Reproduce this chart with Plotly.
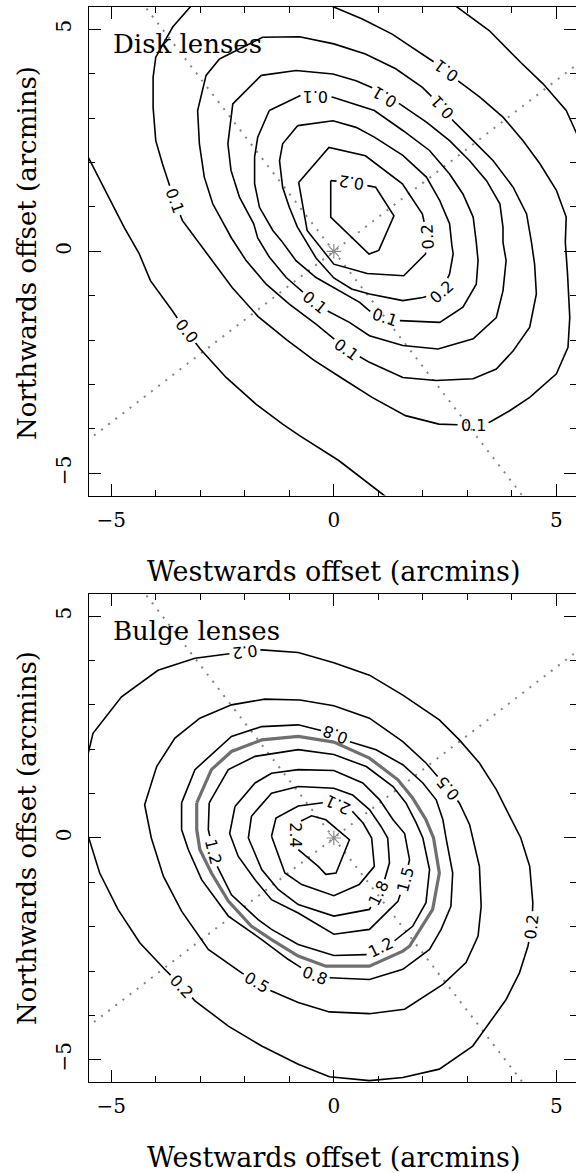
import math
import plotly.graph_objects as go

# ---------------- data (arcmin offsets) ----------------
# Disk lenses panel: contour paths
DISK_A_LOWER = [(-5.52, 2.12), (-5.05, 1.22), (-4.71, 0.54), (-4.37, -0.06), (-4.12, -0.66),
                (-3.62, -1.35), (-3.32, -1.79), (-3.0, -2.2), (-2.42, -2.84), (-1.75, -3.44),
                (-1.15, -3.89), (-0.77, -4.15), (0.11, -4.71), (0.71, -5.17), (1.16, -5.52)]
DISK_A_UPPER = [(2.74, 5.52), (3.49, 4.97), (4.2, 4.25), (4.7, 3.77), (5.22, 3.17), (5.5, 2.55)]
DISK_B = [(-0.05, 5.52), (0.64, 5.23), (1.31, 4.89), (1.99, 4.44), (2.53, 4.07), (2.79, 3.84),
          (3.28, 3.47), (3.8, 3.02), (4.25, 2.49), (4.63, 1.97), (5.0, 1.37), (5.22, 0.77),
          (5.2, 0.2), (5.25, -0.51), (5.3, -1.49), (5.26, -2.16), (5.0, -2.76), (4.4, -3.29),
          (3.95, -3.59), (3.5, -3.85), (3.13, -3.92), (2.36, -3.89), (1.61, -3.7), (0.86, -3.29),
          (0.2, -2.87), (-0.45, -2.45), (-1.05, -2.0), (-1.7, -1.47), (-2.28, -0.82),
          (-2.8, -0.13), (-3.05, 0.2), (-3.4, 0.69), (-3.58, 1.14), (-3.85, 1.97), (-4.0, 2.49),
          (-4.06, 3.24), (-4.06, 3.92), (-4.0, 4.37), (-3.62, 5.05), (-3.21, 5.52)]
DISK_C6 = [(-2.57, 4.33), (-1.6, 4.82), (-0.77, 4.83), (0.0, 4.67), (0.71, 4.44), (1.39, 4.11),
           (1.99, 3.69), (2.44, 3.24), (2.68, 2.94), (3.05, 2.57), (3.58, 2.04), (4.03, 1.44),
           (4.33, 0.84), (4.44, 0.2), (4.51, -0.29), (4.55, -0.96), (4.4, -1.71), (4.03, -2.24),
           (3.65, -2.65), (3.13, -2.87), (2.3, -2.91), (1.55, -2.84), (0.8, -2.5), (0.28, -2.2),
           (-0.4, -1.64), (-1.0, -1.19), (-1.52, -0.74), (-1.97, -0.21), (-2.3, 0.3),
           (-2.72, 1.07), (-2.91, 1.67), (-3.02, 2.42), (-3.06, 3.17), (-2.87, 3.96), (-2.57, 4.33)]
DISK_C5 = [(-1.63, 3.96), (-0.85, 4.07), (-0.02, 3.99), (0.5, 3.84), (0.91, 3.66), (1.14, 3.47),
           (1.48, 3.32), (2.08, 2.91), (2.6, 2.49), (3.05, 2.04), (3.43, 1.59), (3.73, 1.07),
           (3.8, 0.54), (3.8, 0.2), (3.87, -0.21), (3.8, -0.89), (3.65, -1.49), (3.13, -1.97),
           (2.34, -2.2), (1.55, -2.12), (0.8, -1.9), (0.35, -1.6), (-0.1, -1.37), (-0.43, -1.15),
           (-1.07, -0.59), (-1.45, -0.13), (-1.71, 0.3), (-1.8, 0.62), (-2.12, 1.22),
           (-2.31, 1.82), (-2.38, 2.42), (-2.27, 3.32), (-1.63, 3.96)]
DISK_C4 = [(-1.45, 3.17), (-0.77, 3.51), (-0.4, 3.49), (-0.02, 3.47), (0.91, 3.17), (1.55, 2.72),
           (2.15, 2.27), (2.6, 1.74), (2.9, 1.29), (3.13, 0.77), (3.2, 0.2), (3.24, -0.21),
           (3.2, -0.74), (2.9, -1.26), (2.38, -1.6), (1.48, -1.56), (1.14, -1.49), (0.8, -1.34),
           (0.58, -1.15), (0.13, -0.89), (-0.4, -0.59), (-0.85, -0.21), (-1.18, 0.24),
           (-1.37, 0.47), (-1.67, 0.99), (-1.78, 1.52), (-1.78, 2.12), (-1.71, 2.57), (-1.45, 3.17)]
DISK_C3 = [(-0.81, 2.83), (-0.02, 2.94), (0.5, 2.79), (0.91, 2.57), (1.55, 2.16), (2.08, 1.67),
           (2.38, 1.14), (2.6, 0.62), (2.65, 0.15), (2.68, -0.06), (2.6, -0.51), (2.41, -0.92),
           (2.0, -1.04), (1.55, -1.11), (0.8, -0.96), (0.4, -0.85), (0.0, -0.6), (-0.4, -0.15),
           (-0.62, 0.2), (-0.82, 0.55), (-1.0, 0.99), (-1.15, 1.44), (-1.22, 2.04), (-1.15, 2.42),
           (-0.81, 2.83)]
DISK_C2 = [(-0.79, 1.55), (-0.11, 2.34), (0.71, 2.15), (1.54, 1.52), (1.99, 0.84), (2.1, 0.32),
           (2.06, -0.06), (1.57, -0.55), (0.75, -0.5), (0.0, -0.29), (-0.6, 0.47), (-0.79, 1.55)]
DISK_C1 = [(-0.07, 1.59), (0.41, 1.55), (0.94, 1.44), (1.35, 0.8), (1.01, 0.02), (0.79, -0.06),
           (-0.07, 0.77), (-0.07, 1.59)]

# label text, x, y, angle along the contour
DISK_LABELS = [("0.0", -3.32, -1.79, 52), ("0.1", -3.58, 1.14, 70), ("0.1", 2.53, 4.07, -143),
               ("0.1", 3.13, -3.92, 0), ("0.1", 2.44, 3.24, -133), ("0.1", 0.28, -2.2, 36),
               ("0.1", 1.14, 3.47, -149), ("0.1", -0.43, -1.15, 39), ("0.1", -0.4, 3.49, 180),
               ("0.1", 1.14, -1.49, 18), ("0.2", 2.41, -0.92, -42), ("0.2", 2.1, 0.32, -94),
               ("0.2", 0.41, 1.55, -172)]

# Bulge lenses panel: contour paths
BULGE_02 = [(-5.52, 1.9), (-5.41, 2.36), (-4.77, 3.18), (-3.95, 3.78), (-3.12, 4.05), (-2.0, 4.2),
            (-1.62, 4.24), (-0.8, 4.18), (0.0, 3.95), (0.8, 3.67), (1.55, 3.22), (2.37, 2.66),
            (2.82, 2.21), (3.27, 1.69), (3.65, 1.09), (3.95, 0.49), (4.2, 0.0), (4.4, -0.64),
            (4.47, -1.46), (4.45, -2.0), (4.36, -2.44), (4.17, -3.04), (3.87, -3.64), (3.5, -4.16),
            (3.12, -4.69), (2.37, -5.21), (1.55, -5.4), (0.8, -5.47), (-0.1, -5.38), (-0.8, -5.1),
            (-1.62, -4.69), (-2.37, -4.24), (-3.12, -3.67), (-3.42, -3.34), (-3.8, -2.96),
            (-4.36, -2.36), (-4.85, -1.61), (-5.26, -0.79), (-5.52, 0.05)]
BULGE_05 = [(-4.1, 0.0), (-4.25, 0.75), (-3.98, 1.61), (-3.57, 2.25), (-3.01, 2.7), (-2.3, 3.0),
            (-1.55, 3.13), (-0.76, 3.11), (0.0, 2.98), (0.8, 2.7), (1.55, 2.17), (2.07, 1.69),
            (2.56, 1.12), (2.82, 0.79), (3.05, 0.3), (3.15, -0.1), (3.27, -0.64), (3.31, -1.54),
            (3.24, -2.21), (2.97, -2.81), (2.45, -3.3), (1.59, -3.86), (0.8, -3.96), (-0.1, -3.92),
            (-0.8, -3.71), (-1.4, -3.45), (-1.73, -3.26), (-2.07, -3.04), (-2.82, -2.51),
            (-3.42, -1.65), (-3.83, -0.86), (-4.1, 0.0)]
BULGE_08 = [(-3.42, 0.79), (-3.12, 1.54), (-2.3, 2.29), (-1.62, 2.51), (-0.8, 2.55), (-0.35, 2.44),
            (0.05, 2.33), (0.35, 2.17), (0.95, 1.99), (1.55, 1.65), (2.0, 1.24), (2.3, 0.86),
            (2.45, 0.41), (2.52, 0.0), (2.67, -0.79), (2.63, -1.54), (2.41, -2.06), (2.15, -2.51),
            (1.55, -2.96), (0.8, -3.19), (-0.1, -3.15), (-0.44, -3.11), (-1.02, -2.74),
            (-1.62, -2.29), (-2.37, -1.76), (-2.97, -0.94), (-3.27, -0.26), (-3.42, 0.19),
            (-3.42, 0.79)]
BULGE_GREY = [(-3.08, 0.79), (-2.75, 1.54), (-2.3, 1.95), (-1.62, 2.21), (-0.8, 2.29), (0.0, 2.16),
              (0.8, 1.8), (1.44, 1.31), (1.77, 0.9), (2.07, 0.41), (2.24, 0.0), (2.37, -0.79),
              (2.22, -1.61), (1.7, -2.44), (1.55, -2.55), (0.8, -2.89), (-0.18, -2.89),
              (-0.8, -2.66), (-1.4, -2.29), (-1.85, -1.99), (-2.37, -1.42), (-2.75, -0.79),
              (-3.01, -0.26), (-3.08, 0.19), (-3.08, 0.79)]
BULGE_12 = [(-2.8, 0.79), (-2.37, 1.54), (-1.77, 1.84), (-0.8, 1.99), (0.0, 1.88), (0.73, 1.61),
            (1.33, 1.16), (1.62, 0.79), (1.85, 0.34), (2.0, 0.0), (2.15, -0.71), (2.07, -1.46),
            (1.77, -1.99), (1.36, -2.32), (1.05, -2.47), (0.72, -2.63), (0.0, -2.65), (-0.8, -2.4),
            (-1.4, -2.06), (-1.7, -1.84), (-2.3, -1.28), (-2.6, -0.71), (-2.71, -0.3),
            (-2.82, 0.19), (-2.8, 0.79)]
BULGE_15 = [(-2.22, 0.71), (-1.77, 1.24), (-1.4, 1.46), (-0.8, 1.54), (0.0, 1.52), (0.65, 1.24),
            (1.03, 0.86), (1.33, 0.41), (1.59, 0.1), (1.7, -0.49), (1.6, -0.95), (1.44, -1.43),
            (0.8, -2.06), (0.0, -2.17), (-0.8, -1.69), (-1.4, -1.39), (-1.77, -0.94),
            (-2.15, -0.41), (-2.34, 0.1), (-2.22, 0.71)]
BULGE_18 = [(-1.85, 0.49), (-1.4, 1.01), (-0.8, 1.16), (0.0, 1.12), (0.42, 0.97), (0.8, 0.64),
            (1.06, 0.26), (1.21, 0.0), (1.25, -0.56), (1.14, -0.94), (1.0, -1.25), (0.8, -1.61),
            (0.0, -1.76), (-0.8, -1.5), (-1.25, -1.16), (-1.62, -0.71), (-1.92, 0.0), (-1.85, 0.49)]
BULGE_21 = [(-1.4, 0.04), (-1.3, 0.45), (-0.8, 0.72), (-0.3, 0.8), (0.1, 0.75), (0.4, 0.62),
            (0.66, 0.33), (0.85, 0.0), (0.91, -0.64), (0.57, -1.05), (0.0, -1.3), (-0.72, -1.05),
            (-1.1, -0.79), (-1.4, 0.04)]
BULGE_24 = [(-0.87, 0.08), (-0.8, 0.35), (-0.5, 0.5), (-0.18, 0.41), (0.09, 0.19), (0.35, -0.04),
            (0.05, -0.79), (-0.18, -0.82), (-0.35, -0.64), (-0.8, -0.26), (-0.87, 0.08)]

BULGE_LABELS = [("0.2", -2.0, 4.2, 173), ("0.2", 4.45, -2.0, -84), ("0.2", -3.42, -3.34, 46),
                ("0.5", 2.56, 1.12, -130), ("0.5", -1.73, -3.26, 31), ("0.8", 0.05, 2.33, -159),
                ("0.8", -0.44, -3.11, 21), ("1.2", -2.71, -0.3, 76), ("1.2", 1.05, -2.47, -26),
                ("1.5", 1.6, -0.95, -75), ("1.8", 1.0, -1.25, -63), ("2.1", 0.1, 0.75, -155),
                ("2.4", -0.87, 0.08, 90)]

# reference axes (dotted) : position angles and half lengths
AXIS_ANGLES_DEG = [-52.4, 37.6]
AXIS_HALF_LEN = [7.1, 6.8]
CENTRE = (0.0, 0.0)

PANEL_TITLES = ["Disk lenses", "Bulge lenses"]
X_TITLE = "Westwards offset (arcmins)"
Y_TITLE = "Northwards offset (arcmins)"
X_RANGE = [-5.5, 5.44]
Y_RANGE = [-5.5, 5.5]

# ---------------- helpers ----------------
LABEL_HALF_GAP = 0.35


def cut_for_labels(pts, labels, h=LABEL_HALF_GAP):
    """Return x, y lists of the polyline with gaps where labels sit."""
    cum = [0.0]
    for i in range(1, len(pts)):
        cum.append(cum[-1] + math.dist(pts[i - 1], pts[i]))
    total = cum[-1]
    gaps = []
    for (_, lx, ly, _) in labels:
        for i, p in enumerate(pts):
            if abs(p[0] - lx) < 1e-9 and abs(p[1] - ly) < 1e-9:
                gaps.append((cum[i] - h, cum[i] + h))
    if not gaps:
        return [p[0] for p in pts], [p[1] for p in pts]

    def inside(s):
        return any(a < s < b for a, b in gaps)

    def at(s):
        for i in range(len(pts) - 1):
            if cum[i] <= s <= cum[i + 1]:
                d = cum[i + 1] - cum[i]
                t = 0 if d == 0 else (s - cum[i]) / d
                return (pts[i][0] + t * (pts[i + 1][0] - pts[i][0]),
                        pts[i][1] + t * (pts[i + 1][1] - pts[i][1]))
        return pts[-1]

    events = sorted(set(cum) | {v for g in gaps for v in g if 0 <= v <= total})
    xs, ys = [], []
    prev = None
    for s in events:
        if inside(s):
            if xs and xs[-1] is not None:
                xs.append(None); ys.append(None)
            prev = None
            continue
        if prev is not None and inside((prev + s) / 2):
            if xs and xs[-1] is not None:
                xs.append(None); ys.append(None)
        x, y = at(s)
        xs.append(x); ys.append(y)
        prev = s
    return xs, ys


fig = go.Figure()

SERIF = "DejaVu Serif"
SANS = "DejaVu Sans"


def add_panel(idx, paths, grey_paths, labels):
    xa = "x" if idx == 0 else "x2"
    ya = "y" if idx == 0 else "y2"
    # dotted reference axes
    for ang, hl in zip(AXIS_ANGLES_DEG, AXIS_HALF_LEN):
        c, s = math.cos(math.radians(ang)), math.sin(math.radians(ang))
        fig.add_trace(go.Scatter(x=[CENTRE[0] - hl * c, CENTRE[0] + hl * c],
                                 y=[CENTRE[1] - hl * s, CENTRE[1] + hl * s],
                                 mode="lines", xaxis=xa, yaxis=ya, hoverinfo="skip",
                                 line=dict(color="#858585", width=2, dash="2px,7px"),
                                 showlegend=False))
    for p in paths:
        xs, ys = cut_for_labels(p, labels)
        fig.add_trace(go.Scatter(x=xs, y=ys, mode="lines", xaxis=xa, yaxis=ya,
                                 line=dict(color="black", width=1.6), hoverinfo="skip",
                                 showlegend=False, connectgaps=False))
    for p in grey_paths:
        xs, ys = cut_for_labels(p, labels)
        fig.add_trace(go.Scatter(x=xs, y=ys, mode="lines", xaxis=xa, yaxis=ya,
                                 line=dict(color="#6f6f6f", width=3.2), hoverinfo="skip",
                                 showlegend=False))
    fig.add_trace(go.Scatter(x=[CENTRE[0]], y=[CENTRE[1]], mode="markers", xaxis=xa, yaxis=ya,
                             marker=dict(symbol="asterisk-open", size=12, color="#8a8a8a",
                                         line=dict(color="#8a8a8a", width=1.2)),
                             hoverinfo="skip", showlegend=False))
    for (txt, lx, ly, ang) in labels:
        fig.add_annotation(x=lx, y=ly, xref=xa, yref=ya, text=txt, showarrow=False,
                           textangle=ang, font=dict(family=SANS, size=16, color="black"),
                           xanchor="center", yanchor="middle")


add_panel(0, [DISK_A_LOWER, DISK_A_UPPER, DISK_B, DISK_C6, DISK_C5, DISK_C4, DISK_C3,
              DISK_C2, DISK_C1], [], DISK_LABELS)
add_panel(1, [BULGE_02, BULGE_05, BULGE_08, BULGE_12, BULGE_15, BULGE_18, BULGE_21, BULGE_24],
          [BULGE_GREY], BULGE_LABELS)

W, H = 576, 1173
M_L, M_R, M_T, M_B = 89, 0, 7, 91
TOP_DOMAIN = [0.5455, 1.0]
BOT_DOMAIN = [0.0, 0.454]

axis_common = dict(showgrid=False, zeroline=False, showline=True, linecolor="black",
                   linewidth=1, mirror="ticks", ticks="inside", ticklen=12, tickwidth=1,
                   tickcolor="black", tick0=0, dtick=5,
                   tickfont=dict(family=SERIF, size=20, color="black"),
                   minor=dict(ticks="inside", ticklen=6, tickwidth=1, tickcolor="black",
                              tick0=0, dtick=1))

fig.update_layout(
    width=W, height=H, margin=dict(l=M_L, r=M_R, t=M_T, b=M_B),
    paper_bgcolor="white", plot_bgcolor="white", showlegend=False,
    xaxis=dict(domain=[0, 1], anchor="y", range=X_RANGE, ticklabelstandoff=6, **axis_common),
    yaxis=dict(domain=TOP_DOMAIN, anchor="x", range=Y_RANGE, tickangle=-90,
               ticklabelstandoff=9, **axis_common),
    xaxis2=dict(domain=[0, 1], anchor="y2", range=X_RANGE, ticklabelstandoff=6, **axis_common),
    yaxis2=dict(domain=BOT_DOMAIN, anchor="x2", range=Y_RANGE, tickangle=-90,
                ticklabelstandoff=9, **axis_common),
)

plot_h = H - M_T - M_B
plot_w = W - M_L - M_R


def px_to_paper(px, py):
    return (px - M_L) / plot_w, (H - M_B - py) / plot_h


for i, (title, ycen, tcy) in enumerate([(PANEL_TITLES[0], 253, 44), (PANEL_TITLES[1], 838, 631)]):
    xt, yt = px_to_paper(333.5, 571 if i == 0 else 1157)
    fig.add_annotation(x=xt, y=yt, xref="paper", yref="paper", text=X_TITLE, showarrow=False,
                       font=dict(family=SERIF, size=27, color="black"),
                       xanchor="center", yanchor="middle")
    xy, yy = px_to_paper(27, ycen)
    fig.add_annotation(x=xy, y=yy, xref="paper", yref="paper", text=Y_TITLE, showarrow=False,
                       textangle=-90, font=dict(family=SERIF, size=26, color="black"),
                       xanchor="center", yanchor="middle")
    xp, yp = px_to_paper(111, tcy)
    fig.add_annotation(x=xp, y=yp, xref="paper", yref="paper", text=title, showarrow=False,
                       font=dict(family=SERIF, size=26, color="black"),
                       xanchor="left", yanchor="middle")

fig.write_html("out.html", config={"displayModeBar": False},
               post_script="document.body.style.margin='0';")
